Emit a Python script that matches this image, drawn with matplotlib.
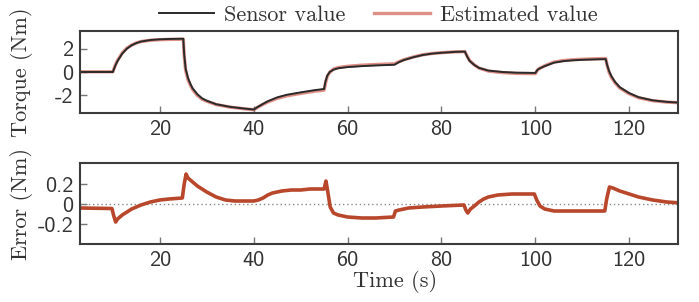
import numpy as np
import matplotlib
matplotlib.use("Agg")
import matplotlib.pyplot as plt

# torque data (time in s, torque in Nm)
t_torque = [3, 10, 10.5, 11, 12, 13, 14, 15, 16, 18, 20, 22, 25,
            25.2, 25.5, 26, 26.5, 27, 28, 29, 30, 32, 35, 38, 40,
            41, 42, 43, 45, 47, 50, 53, 55,
            55.3, 55.7, 56.2, 57, 58, 60, 63, 66, 70,
            71, 72, 74, 76, 78, 80, 83, 85,
            85.5, 86, 87, 88, 90, 93, 96, 100,
            100.5, 101, 102, 104, 106, 108, 110, 113, 115,
            115.3, 115.7, 116.2, 117, 118, 120, 122, 125, 128, 131]
sensor = [0.0, 0.0, 0.52, 0.94, 1.57, 2.0, 2.28, 2.47, 2.6, 2.73, 2.79, 2.82, 2.84,
          1.5, 0.3, -0.5, -1.0, -1.4, -1.9, -2.25, -2.45, -2.75, -2.98, -3.12, -3.2,
          -2.95, -2.72, -2.5, -2.17, -1.95, -1.74, -1.55, -1.45,
          -0.8, -0.3, 0.0, 0.2, 0.32, 0.42, 0.5, 0.56, 0.62,
          0.85, 1.02, 1.26, 1.45, 1.57, 1.64, 1.72, 1.74,
          1.3, 0.95, 0.6, 0.35, 0.12, 0.0, -0.06, -0.08,
          0.2, 0.32, 0.5, 0.8, 0.93, 1.0, 1.04, 1.08, 1.1,
          0.6, 0.1, -0.35, -0.85, -1.3, -1.8, -2.15, -2.42, -2.55, -2.62]
estimated = [0.02, 0.02, 0.57, 1.0, 1.62, 2.04, 2.3, 2.48, 2.6, 2.71, 2.76, 2.78, 2.8,
             1.4, 0.15, -0.65, -1.12, -1.5, -2.0, -2.32, -2.5, -2.78, -3.0, -3.14, -3.22,
             -2.98, -2.76, -2.56, -2.25, -2.04, -1.83, -1.64, -1.55,
             -0.95, -0.35, -0.03, 0.25, 0.38, 0.49, 0.58, 0.64, 0.7,
             0.89, 1.05, 1.28, 1.47, 1.58, 1.65, 1.72, 1.74,
             1.34, 0.98, 0.61, 0.34, 0.08, -0.05, -0.12, -0.14,
             0.18, 0.33, 0.53, 0.85, 0.98, 1.05, 1.09, 1.13, 1.15,
             0.57, 0.0, -0.45, -0.93, -1.37, -1.86, -2.2, -2.45, -2.57, -2.63]

# estimation error (Nm)
t_err = [3, 9.8, 10.2, 10.6, 11, 12, 13, 14, 15, 16, 18, 20, 22, 24.8,
         25.2, 25.6, 26, 27, 28, 30, 32, 34, 36, 38, 40,
         41, 42, 43, 44, 46, 48, 50, 52, 55,
         55.4, 55.8, 56.3, 57, 58, 60, 63, 66, 69.8,
         70.2, 71, 73, 76, 80, 84.8,
         85.2, 85.6, 86.2, 87, 88, 89, 90, 92, 95, 99.8,
         100.3, 101, 102, 104, 108, 112, 114.8,
         115.2, 115.8, 116.5, 118, 120, 122, 125, 128, 131]
error = [-0.04, -0.045, -0.12, -0.18, -0.15, -0.11, -0.08, -0.05, -0.03, -0.01, 0.02, 0.04, 0.05, 0.06,
         0.2, 0.3, 0.26, 0.22, 0.18, 0.12, 0.07, 0.04, 0.03, 0.03, 0.03,
         0.04, 0.06, 0.09, 0.11, 0.13, 0.14, 0.14, 0.15, 0.15,
         0.23, 0.12, -0.03, -0.09, -0.11, -0.13, -0.14, -0.14, -0.13,
         -0.07, -0.06, -0.04, -0.03, -0.02, -0.01,
         -0.06, -0.09, -0.05, -0.02, 0.02, 0.05, 0.07, 0.09, 0.1, 0.1,
         0.04, -0.02, -0.05, -0.07, -0.07, -0.07, -0.07,
         0.05, 0.17, 0.16, 0.13, 0.1, 0.07, 0.04, 0.02, 0.01]

torque_ticks = [-2, 0, 2]
torque_labels = ["-2", "0", "2"]
err_ticks = [-0.2, 0, 0.2]
err_labels = ["-0.2", "0", "0.2"]
time_ticks = [20, 40, 60, 80, 100, 120]

plt.rcParams['axes.unicode_minus'] = False
serif = 'cmr10'
tickfont = 'cmss10'
spine_col = '#3c3c3c'

W, H = 699, 302
fig = plt.figure(figsize=(W / 100, H / 100), dpi=100)
ax1 = fig.add_axes([80 / W, 1 - 113 / H, 598 / W, 82 / H])
ax2 = fig.add_axes([80 / W, 1 - 244 / H, 598 / W, 81 / H])

l_est, = ax1.plot(t_torque, estimated, color='#d46a5e', lw=2.4, alpha=0.75, label='Estimated value')
l_sen, = ax1.plot(t_torque, sensor, color='#2a2a2a', lw=1.4, label='Sensor value')
ax1.set_ylim(-3.5, 3.5)
ax1.set_yticks(torque_ticks)
ax1.set_yticklabels(torque_labels)

ax2.axhline(0, color='#888888', lw=1, ls=(0, (1, 2)))
ax2.plot(t_err, error, color='#b8472c', lw=2.6, solid_joinstyle='round')
ax2.set_ylim(-0.4, 0.41)
ax2.set_yticks(err_ticks)
ax2.set_yticklabels(err_labels)

for ax in (ax1, ax2):
    ax.set_xlim(3, 130.4)
    ax.set_xticks(time_ticks)
    ax.set_xticklabels([str(v) for v in time_ticks])
    for s in ax.spines.values():
        s.set_color(spine_col)
        s.set_linewidth(1.5)
    ax.tick_params(direction='in', length=5, width=1, color='#777777',
                   labelcolor='#333333', labelsize=16, pad=5)
    for lab in ax.get_xticklabels() + ax.get_yticklabels():
        lab.set_fontfamily(tickfont)

ax1.set_ylabel('Torque (Nm)', fontfamily=serif, fontsize=16, color='#333333')
ax2.set_ylabel('Error (Nm)', fontfamily=serif, fontsize=16, color='#333333')
ax1.yaxis.set_label_coords(-0.078, 0.5)
ax2.yaxis.set_label_coords(-0.078, 0.5)
ax2.set_xlabel('Time (s)', fontfamily=serif, fontsize=16, color='#333333')
ax2.xaxis.set_label_coords(0.527, -0.32)

fig.legend([l_sen, l_est], ['Sensor value', 'Estimated value'], loc='center',
           bbox_to_anchor=(378 / W, 1 - 15 / H), ncol=2, frameon=False,
           prop={'family': serif, 'size': 16}, handlelength=2.5,
           handletextpad=0.45, columnspacing=1.3, labelcolor='#333333')

fig.savefig('out.png', dpi=100)
